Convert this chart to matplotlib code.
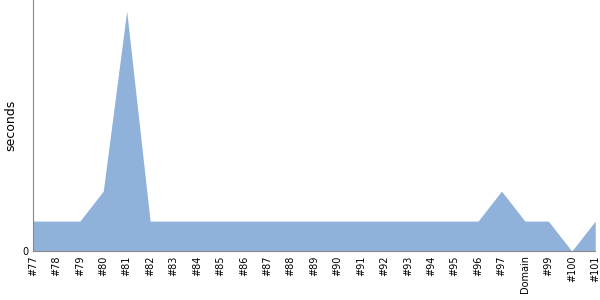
import matplotlib
matplotlib.use('Agg')
import matplotlib.pyplot as plt
import numpy as np

# build labels and durations (seconds)
builds = ['#77', '#78', '#79', '#80', '#81', '#82', '#83', '#84', '#85', '#86',
          '#87', '#88', '#89', '#90', '#91', '#92', '#93', '#94', '#95', '#96',
          '#97', 'Domain', '#99', '#100', '#101']
durations = [1, 1, 1, 2, 8, 1, 1, 1, 1, 1,
             1, 1, 1, 1, 1, 1, 1, 1, 1, 1,
             2, 1, 1, 0, 1]

fig = plt.figure(figsize=(6, 3), dpi=100)
ax = fig.add_axes([0.055, 0.163, 0.937, 0.837])

x = np.arange(len(builds))
ax.fill_between(x, durations, 0, color='#8fb1da', lw=0)

ax.set_xlim(0, len(builds) - 1)
ax.set_ylim(0, 8.37)
ax.set_xticks(x)
ax.set_xticklabels(builds, rotation=90, fontsize=7)
ax.set_yticks([0])
ax.set_yticklabels(['0'], fontsize=7)
ax.tick_params(length=0, pad=3)
ax.set_ylabel('seconds', fontsize=9)

for side in ['top', 'right']:
    ax.spines[side].set_visible(False)
for side in ['left', 'bottom']:
    ax.spines[side].set_color('#888888')

plt.savefig('out.png', dpi=100)
plt.close()
